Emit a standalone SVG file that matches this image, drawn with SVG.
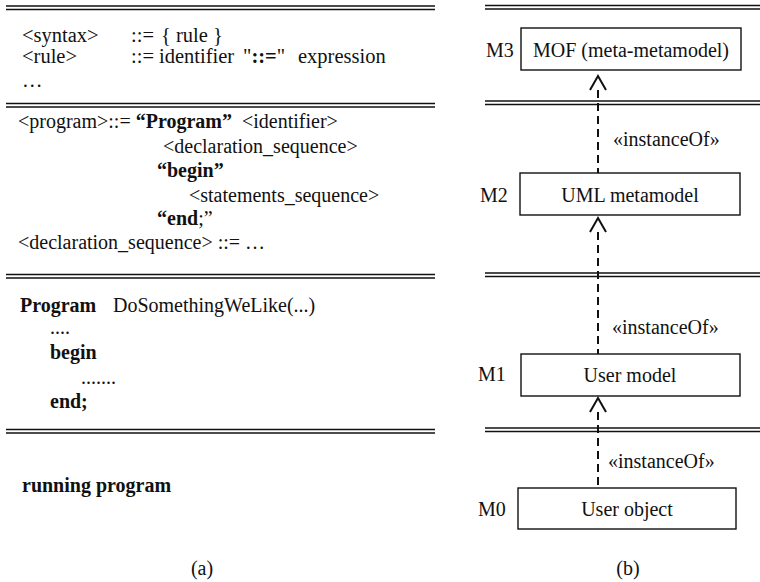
<svg xmlns="http://www.w3.org/2000/svg" width="760" height="582" viewBox="0 0 760 582">
  <style>
    text { font-family: "Liberation Serif", "Times New Roman", serif; font-size: 20px; fill: #111; }
    .e { font-size: 20.5px; }
    .b { font-weight: bold; }
    .mid { text-anchor: middle; }
    .rule { stroke: #111; stroke-width: 1.7; fill: none; }
    .box { fill: #fff; stroke: #111; stroke-width: 1.4; }
    .dash { stroke: #111; stroke-width: 2; stroke-dasharray: 8 5; fill: none; }
    .head { stroke: #111; stroke-width: 2; fill: none; }
  </style>
  <rect width="760" height="582" fill="#fff"/>

  <!-- (a) panel: language layers separated by double rules -->
  <g id="panel-a-rules">
    <line class="rule" x1="6" y1="6" x2="435" y2="6"/>
    <line class="rule" x1="6" y1="9.5" x2="435" y2="9.5"/>
    <line class="rule" x1="6" y1="103.5" x2="435" y2="103.5"/>
    <line class="rule" x1="6" y1="107" x2="435" y2="107"/>
    <line class="rule" x1="6" y1="274.5" x2="435" y2="274.5"/>
    <line class="rule" x1="6" y1="278" x2="435" y2="278"/>
    <line class="rule" x1="6" y1="429.5" x2="435" y2="429.5"/>
    <line class="rule" x1="6" y1="433" x2="435" y2="433"/>
  </g>

  <g id="ebnf">
    <text class="e" x="22" y="42">&lt;syntax&gt;</text>
    <text class="e" x="131" y="42">::=</text>
    <text class="e" x="161" y="42">{ rule }</text>
    <text class="e" x="22" y="63">&lt;rule&gt;</text>
    <text class="e" x="131" y="63">::=</text>
    <text class="e" x="159" y="63">identifier</text>
    <text class="e" x="243" y="63">"<tspan class="b">::=</tspan>"</text>
    <text class="e" x="298" y="63">expression</text>
    <text class="e" x="22" y="87">…</text>
  </g>

  <g id="grammar">
    <text x="18" y="128" xml:space="preserve">&lt;program&gt;::= <tspan class="b">“Program”</tspan>  &lt;identifier&gt;</text>
    <text x="163" y="153">&lt;declaration_sequence&gt;</text>
    <text x="157" y="177" class="b">“begin”</text>
    <text x="189" y="202">&lt;statements_sequence&gt;</text>
    <text x="157" y="225"><tspan class="b">“end</tspan>;”</text>
    <text x="18" y="249">&lt;declaration_sequence&gt; ::= …</text>
  </g>

  <g id="program-text">
    <text x="20" y="312" class="b">Program</text>
    <text x="113" y="312">DoSomethingWeLike(...)</text>
    <text x="50" y="334">....</text>
    <text x="50" y="359" class="b">begin</text>
    <text x="81" y="384">.......</text>
    <text x="50" y="408" class="b">end;</text>
  </g>

  <g id="running">
    <text x="22" y="492" class="b">running program</text>
  </g>

  <text class="mid" x="202" y="575">(a)</text>

  <!-- (b) panel: metamodel layers -->
  <g id="panel-b-rules">
    <line class="rule" x1="485" y1="5.5" x2="760" y2="5.5"/>
    <line class="rule" x1="485" y1="9" x2="760" y2="9"/>
    <line class="rule" x1="485" y1="101" x2="760" y2="101"/>
    <line class="rule" x1="485" y1="104.5" x2="760" y2="104.5"/>
    <line class="rule" x1="485" y1="273" x2="760" y2="273"/>
    <line class="rule" x1="485" y1="276.5" x2="760" y2="276.5"/>
    <line class="rule" x1="485" y1="428" x2="760" y2="428"/>
    <line class="rule" x1="485" y1="431.5" x2="760" y2="431.5"/>
  </g>

  <g id="connectors">
    <path class="dash" d="M598 90 V173"/>
    <path class="head" d="M590 90 L598 76 L606 90"/>
    <text x="613" y="146">«instanceOf»</text>
    <path class="dash" d="M598 232 V354"/>
    <path class="head" d="M590 232 L598 218 L606 232"/>
    <text x="612" y="334">«instanceOf»</text>
    <path class="dash" d="M598 412 V488"/>
    <path class="head" d="M590 412 L598 398 L606 412"/>
    <text x="608" y="468">«instanceOf»</text>
  </g>

  <g id="m3">
    <rect class="box" x="521" y="28" width="220" height="42"/>
    <text x="486" y="57">M3</text>
    <text class="mid" x="631" y="57">MOF (meta-metamodel)</text>
  </g>
  <g id="m2">
    <rect class="box" x="520" y="173" width="220" height="42"/>
    <text x="480" y="202">M2</text>
    <text class="mid" x="630" y="202">UML metamodel</text>
  </g>
  <g id="m1">
    <rect class="box" x="521" y="354" width="219" height="42"/>
    <text x="478" y="381">M1</text>
    <text class="mid" x="630" y="382">User model</text>
  </g>
  <g id="m0">
    <rect class="box" x="518" y="488" width="218" height="41"/>
    <text x="478" y="516">M0</text>
    <text class="mid" x="627" y="516">User object</text>
  </g>

  <text class="mid" x="628" y="575">(b)</text>
</svg>
